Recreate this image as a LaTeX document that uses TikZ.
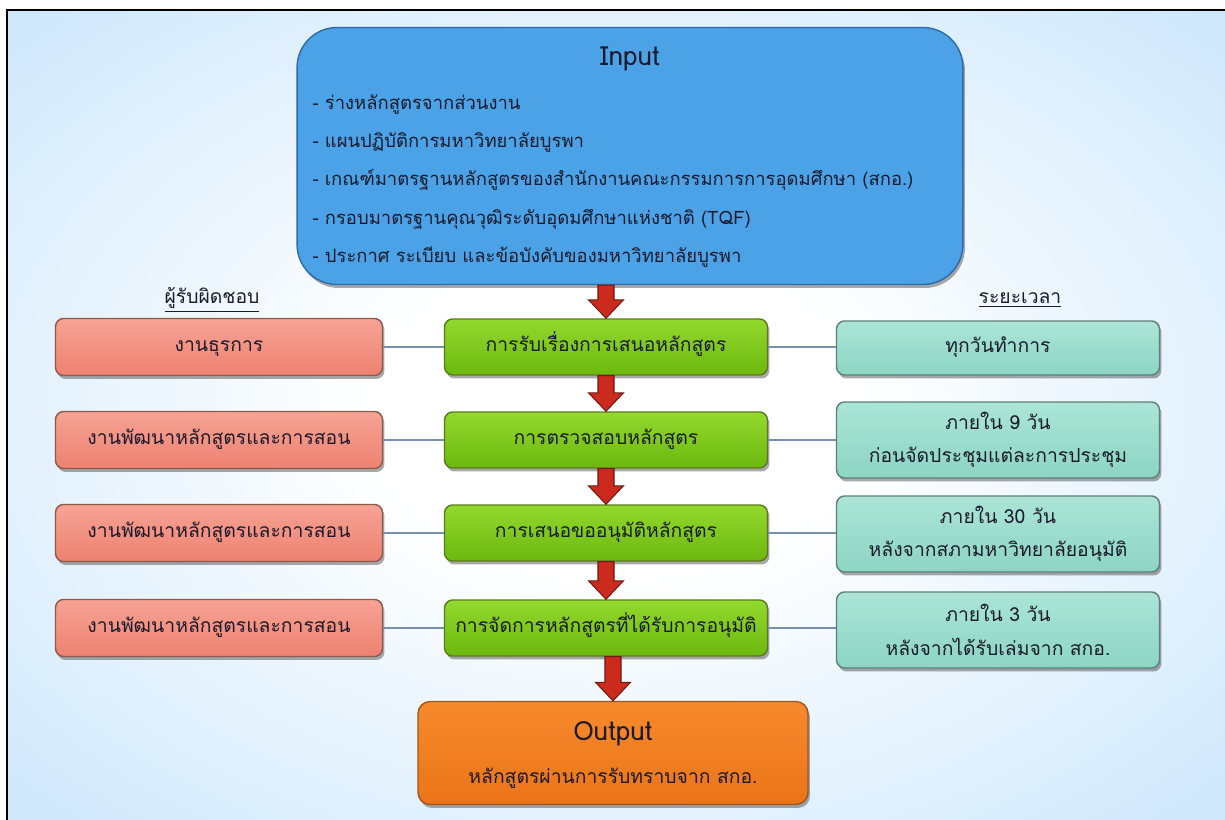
\documentclass[tikz,border=0pt]{standalone}
\usepackage{fontspec}
\setmainfont[Script=Thai]{Loma}
\usetikzlibrary{positioning,calc,shadows}

\definecolor{ink}{HTML}{1A1A2C}
\definecolor{bgblue}{HTML}{C9E5FB}
\definecolor{bgblueD}{HTML}{A3D2F7}
\definecolor{inblue}{HTML}{4CA2E6}
\definecolor{inedge}{HTML}{2F6AA8}
\definecolor{redtop}{HTML}{F6A394}
\definecolor{redbot}{HTML}{EE8171}
\definecolor{rededge}{HTML}{8C5A48}
\definecolor{grntop}{HTML}{93D92E}
\definecolor{grnbot}{HTML}{6CB80E}
\definecolor{grnedge}{HTML}{5B7A1A}
\definecolor{tealtop}{HTML}{ABE5D6}
\definecolor{tealbot}{HTML}{8DD5C3}
\definecolor{tealedge}{HTML}{5E7F78}
\definecolor{orgtop}{HTML}{F68A2C}
\definecolor{orgbot}{HTML}{EC7419}
\definecolor{orgedge}{HTML}{A0561A}
\definecolor{arrowfill}{HTML}{CC2A1C}
\definecolor{arrowedge}{HTML}{6E1A12}
\definecolor{linkcol}{HTML}{7490AE}

\pgfdeclareradialshading{bgglow}{\pgfpoint{0bp}{0bp}}{%
  color(0bp)=(white); color(10bp)=(white); color(38bp)=(bgblue);
  color(52bp)=(bgblue); color(72bp)=(bgblueD)}

% red block arrow from one box down to the next
\newcommand{\redarrow}[2]{%
  \filldraw[fill=arrowfill, draw=arrowedge, line width=0.6pt]
    let \p1=(#1.south), \p2=(#2.north) in
    (\x2-0.16cm,\y1) -- (\x2+0.16cm,\y1) -- (\x2+0.16cm,\y2+0.37cm)
    -- (\x2+0.35cm,\y2+0.37cm) -- (\x2,\y2) -- (\x2-0.35cm,\y2+0.37cm)
    -- (\x2-0.16cm,\y2+0.37cm) -- cycle;}

\begin{document}
\begin{tikzpicture}[
x = 0.02cm, y = -0.02cm,
node distance = 5mm,
every node/.style = {
	font = \fontsize{11}{13}\selectfont,
	text = ink
},
boxshadow/.style = {
	drop shadow = {shadow xshift=0.04cm, shadow yshift=-0.07cm,
		opacity=0.45, fill=black!75}
},
card/.style = {
	boxshadow,
	draw,
	line width = 0.8pt,
	rounded corners = 0.16cm,
	align = center
},
one line/.style = {
	text height = 8pt,
	text depth = 3pt
},
resp/.style = {
	card, one line,
	top color = redtop, bottom color = redbot, draw = rededge,
	minimum width = 6.54cm, minimum height = 1.14cm
},
stepbox/.style = {
	card, one line,
	top color = grntop, bottom color = grnbot, draw = grnedge,
	minimum width = 6.46cm, minimum height = 1.12cm
},
timebox/.style = {
	card,
	top color = tealtop, bottom color = tealbot, draw = tealedge,
	minimum width = 6.46cm, minimum height = 1.52cm,
	font = \fontsize{11}{19}\selectfont
},
big title/.style = {
	font = \fontsize{15}{18}\selectfont
},
head/.style = {
	font = \fontsize{11}{13}\selectfont
},
link/.style = {
	draw = linkcol,
	line width = 0.6pt
}
]

\useasboundingbox (0,0) rectangle (1225,820);
\fill[white] (0,0) rectangle (1225,820);
\shade[shading=bgglow] (7,10) rectangle (1225,820);
\draw[line width=1.3pt] (7,820) -- (7,10) -- (1225,10);

% input
\node [boxshadow, draw=inedge, fill=inblue, line width=0.8pt,
	rounded corners=0.8cm, minimum width=13.32cm, minimum height=5.14cm]
	(in) at (630,156) {};
\node [big title, below = 0.28cm of in.north] (intitle) {Input};
\node [anchor=west, align=left, font=\fontsize{10.5}{21.9}\selectfont]
	(inlist) at ([xshift=0.2cm, yshift=-0.5cm] in.west) {%
	- ร่างหลักสูตรจากส่วนงาน\\
	- แผนปฏิบัติการมหาวิทยาลัยบูรพา\\
	- เกณฑ์มาตรฐานหลักสูตรของสำนักงานคณะกรรมการการอุดมศึกษา (สกอ.)\\
	- กรอบมาตรฐานคุณวุฒิระดับอุดมศึกษาแห่งชาติ (TQF)\\
	- ประกาศ ระเบียบ และข้อบังคับของมหาวิทยาลัยบูรพา};

\node [head] (hresp) at (212,300) {\underline{ผู้รับผิดชอบ}};
\node [head] (htime) at (1020,300) {\underline{ระยะเวลา}};

% steps
\node [stepbox] (s1) at (606,347) {การรับเรื่องการเสนอหลักสูตร};
\node [stepbox] (s2) at (606,440) {การตรวจสอบหลักสูตร};
\node [stepbox] (s3) at (606,533) {การเสนอขออนุมัติหลักสูตร};
\node [stepbox] (s4) at (606,628) {การจัดการหลักสูตรที่ได้รับการอนุมัติ};

\node [resp] (r1) at (219,347) {งานธุรการ};
\node [resp] (r2) at (219,440) {งานพัฒนาหลักสูตรและการสอน};
\node [resp] (r3) at (219,533) {งานพัฒนาหลักสูตรและการสอน};
\node [resp] (r4) at (219,628) {งานพัฒนาหลักสูตรและการสอน};

\node [timebox, one line, minimum height=1.08cm] (t1) at (998,348) {ทุกวันทำการ};
\node [timebox] (t2) at (998,440) {ภายใน 9 วัน\\ก่อนจัดประชุมแต่ละการประชุม};
\node [timebox] (t3) at (998,534) {ภายใน 30 วัน\\หลังจากสภามหาวิทยาลัยอนุมัติ};
\node [timebox] (t4) at (998,630) {ภายใน 3 วัน\\หลังจากได้รับเล่มจาก สกอ.};

% output
\node [card, top color=orgtop, bottom color=orgbot, draw=orgedge,
	rounded corners=0.24cm, minimum width=7.8cm, minimum height=2.06cm]
	(out) at (613,753) {};
\node [big title, below = 0.3cm of out.north] (outtitle) {Output};
\node [above = 0.2cm of out.south] (outtext) {หลักสูตรผ่านการรับทราบจาก สกอ.};

\draw[link] (r1.east) -- (s1.west);
\draw[link] (r2.east) -- (s2.west);
\draw[link] (r3.east) -- (s3.west);
\draw[link] (r4.east) -- (s4.west);
\draw[link] (s1.east) -- (s1.east -| t1.west);
\draw[link] (s2.east) -- (s2.east -| t2.west);
\draw[link] (s3.east) -- (s3.east -| t3.west);
\draw[link] (s4.east) -- (s4.east -| t4.west);

\redarrow{in}{s1}
\redarrow{s1}{s2}
\redarrow{s2}{s3}
\redarrow{s3}{s4}
\redarrow{s4}{out}

\end{tikzpicture}
\end{document}
